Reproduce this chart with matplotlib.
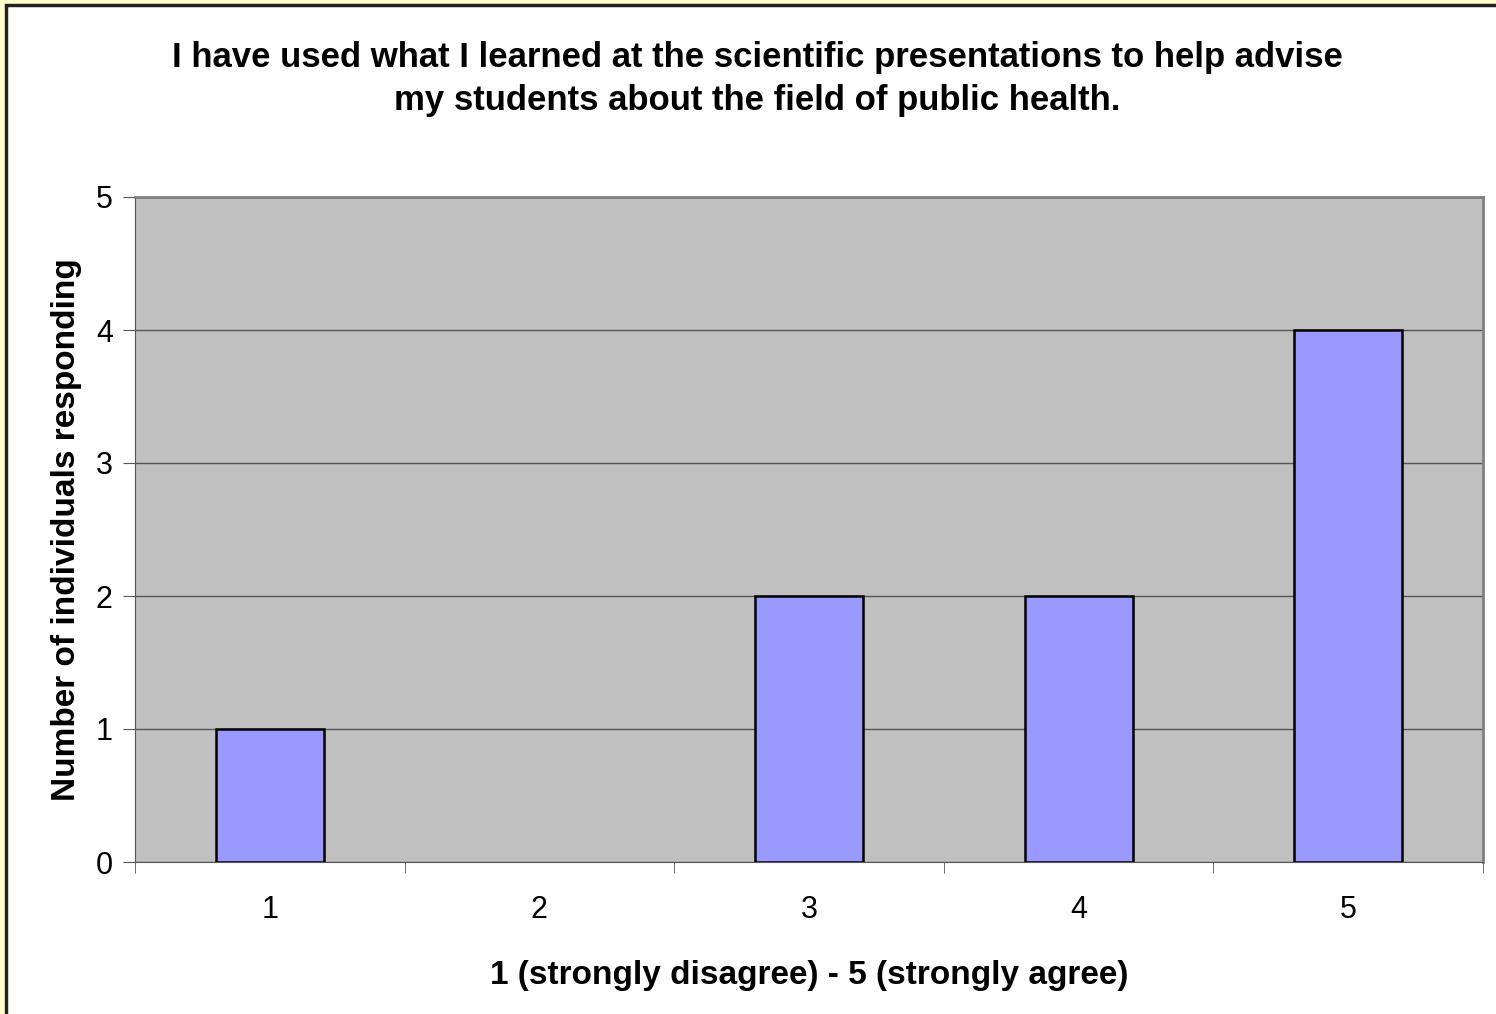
import matplotlib.pyplot as plt
from matplotlib.patches import Rectangle

categories = ["1", "2", "3", "4", "5"]
counts = [1, 0, 2, 2, 4]
y_ticks = [0, 1, 2, 3, 4, 5]

title = ("I have used what I learned at the scientific presentations to help advise\n"
         "my students about the field of public health.")

plt.rcParams['font.family'] = ['Liberation Sans', 'DejaVu Sans']

W, H = 1496, 1014
fig = plt.figure(figsize=(W / 100, H / 100), dpi=100, facecolor="#FFFFCC")

# chart frame (cut off at right and bottom like the reference)
frame = Rectangle((6 / W, -0.05), 1.1, 1 - 5 / H + 0.05, transform=fig.transFigure,
                  facecolor="white", edgecolor="#222222", linewidth=2.5, zorder=-5)
fig.patches.append(frame)

ax = fig.add_axes([135 / W, 1 - 862 / H, (1483 - 135) / W, (862 - 197) / H])
ax.set_facecolor("#C0C0C0")

x = list(range(len(categories)))
edges = ["black" if c > 0 else "none" for c in counts]
ax.bar(x, counts, width=0.4, color="#9999FF", edgecolor=edges, linewidth=1.8, zorder=3)

ax.set_xlim(-0.5, len(categories) - 0.5)
ax.set_ylim(0, 5)
ax.set_yticks(y_ticks)
ax.set_yticklabels([str(v) for v in y_ticks])
ax.yaxis.grid(True, color="#555555", linewidth=1, zorder=1)

ax.set_xticks(x)
ax.set_xticklabels(categories)
ax.set_xticks([i - 0.5 for i in range(len(categories) + 1)], minor=True)
ax.tick_params(axis="x", which="major", length=0, pad=24, labelsize=22)
ax.tick_params(axis="x", which="minor", length=8, color="#555555")
ax.tick_params(axis="y", length=9, color="#555555", labelsize=22, pad=7)

for side in ["top", "right"]:
    ax.spines[side].set_color("#808080")
    ax.spines[side].set_linewidth(2)
ax.spines["left"].set_color("#555555")
ax.spines["bottom"].set_color("#555555")

ax.set_xlabel("1 (strongly disagree) - 5 (strongly agree)", fontsize=24, fontweight="bold", labelpad=25)
ax.set_ylabel("Number of individuals responding", fontsize=24, fontweight="bold", labelpad=10)

fig.text(757 / W, 1 - 79 / H, title, ha="center", va="center", fontsize=25,
         fontweight="bold", linespacing=1.4)

fig.savefig("out.png", dpi=100, facecolor=fig.get_facecolor())
